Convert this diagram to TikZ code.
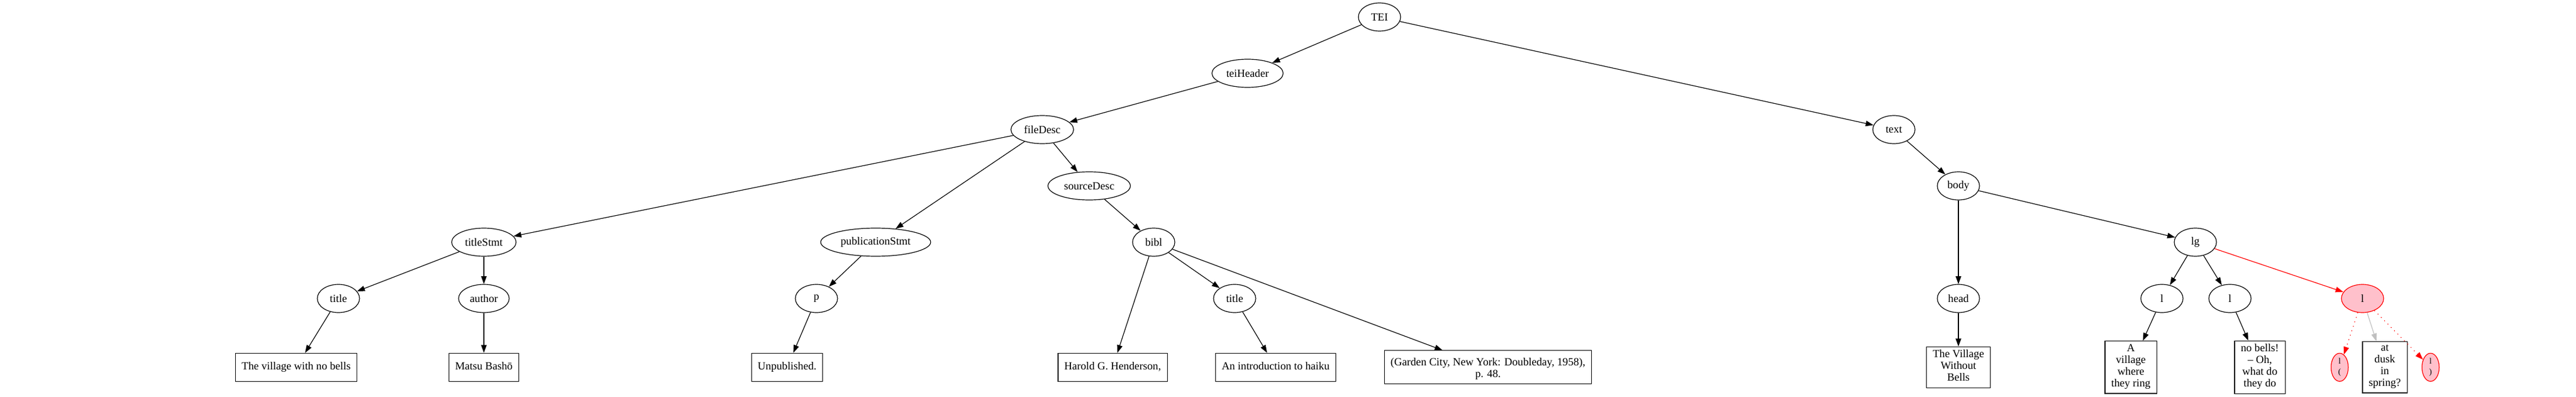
\documentclass[tikz,border=0pt]{standalone}
\usepackage{fontspec}
\setmainfont{Liberation Serif}
\usepackage{tikz}
\usepackage{xcolor}
\usetikzlibrary{shapes.geometric, arrows.meta, positioning}
\definecolor{markfill}{HTML}{FFC0CB}
\definecolor{edgegray}{HTML}{C0C0C0}
\tikzstyle{element} = [ellipse, minimum width=54pt, minimum height=36pt, inner xsep=5pt, inner ysep=2pt, draw=black, line width=0.9pt]
\tikzstyle{leaf} = [rectangle, minimum height=36pt, inner xsep=8pt, inner ysep=4.1pt, align=center, draw=black, line width=0.9pt, execute at begin node=\strut, execute at end node=\strut]
\tikzstyle{marked} = [element, draw=red, fill=markfill]
\tikzstyle{smallmark} = [marked, minimum width=22pt, inner sep=1pt, align=center, font=\fontsize{10.5}{13.5}\selectfont]
\tikzstyle{arrow} = [line width=0.9pt, -{Triangle[length=10pt, width=7pt]}]
\tikzstyle{redarrow} = [arrow, red]
\tikzstyle{dotarrow} = [redarrow, dash pattern=on 1pt off 5pt]
\tikzstyle{grayarrow} = [arrow, edgegray]

\begin{document}
\begin{tikzpicture}[node distance=72pt, font=\fontsize{14}{15}\selectfont]
\useasboundingbox (0pt,0pt) rectangle (3294pt,-507.75pt);
% header side
\node (tei) [element] at (1764pt,-21.75pt) {TEI};
\node (teiheader) [element, below of=tei, xshift=-168.75pt] {teiHeader};
\node (filedesc) [element, below of=teiheader, xshift=-262.5pt] {fileDesc};
\node (sourcedesc) [element, below of=filedesc, xshift=60pt] {sourceDesc};
\node (titlestmt) [element, below of=filedesc, yshift=-72pt, xshift=-714pt] {titleStmt};
\node (pubstmt) [element, below of=filedesc, yshift=-72pt, xshift=-213pt] {publicationStmt};
\node (bibl) [element, below of=sourcedesc, xshift=82.5pt] {bibl};
\node (title) [element, below of=titlestmt, xshift=-186pt] {title};
\node (author) [element, below of=titlestmt] {author};
\node (p) [element, below of=pubstmt, xshift=-75.75pt] {p};
\node (bibltitle) [element, below of=bibl, xshift=103.5pt] {title};
\node (titletext) [leaf, below of=title, yshift=-16pt, xshift=-54pt] {The village with no bells};
\node (authortext) [leaf, below of=author, yshift=-16pt] {Matsu Bashō};
\node (ptext) [leaf, below of=p, yshift=-16pt, xshift=-37.5pt] {Unpublished.};
\node (editor) [leaf, below of=bibl, yshift=-88pt, xshift=-52.5pt] {Harold G. Henderson,};
\node (bibltitletext) [leaf, below of=bibltitle, yshift=-16pt, xshift=52.5pt] {An introduction to haiku};
\node (imprint) [leaf, below of=bibl, yshift=-88pt, xshift=427.5pt] {\\(Garden City, New York: Doubleday, 1958),\\p. 48.};
% text side
\node (text) [element, below of=teiheader, xshift=826.5pt] {text};
\node (body) [element, below of=text, xshift=82.5pt] {body};
\node (head) [element, below of=body, yshift=-72pt] {head};
\node (lg) [element, below of=body, xshift=303pt] {lg};
\node (lone) [element, below of=lg, xshift=-42.75pt] {l};
\node (ltwo) [element, below of=lg, xshift=44.25pt] {l};
\node (lthree) [marked, below of=lg, xshift=213.75pt] {l};
\node (headtext) [leaf, below of=head, yshift=-16pt] {The Village\\Without\\Bells};
\node (lonetext) [leaf, below of=lone, yshift=-16pt, xshift=-39.75pt] {A\\village\\where\\they ring};
\node (ltwotext) [leaf, below of=ltwo, yshift=-16pt, xshift=38.25pt] {no bells!\\– Oh,\\what do\\they do};
\node (lopen) [smallmark, below of=lthree, yshift=-16pt, xshift=-29.25pt] {l\\(};
\node (lthreetext) [leaf, below of=lthree, yshift=-16pt, xshift=28.5pt] {at\\dusk\\in\\spring?};
\node (lclose) [smallmark, below of=lthree, yshift=-16pt, xshift=87pt] {l\\)};

\draw [arrow] (tei) -- (teiheader);
\draw [arrow] (tei) -- (text);
\draw [arrow] (teiheader) -- (filedesc);
\draw [arrow] (filedesc) -- (titlestmt);
\draw [arrow] (filedesc) -- (pubstmt);
\draw [arrow] (filedesc) -- (sourcedesc);
\draw [arrow] (titlestmt) -- (title);
\draw [arrow] (titlestmt) -- (author);
\draw [arrow] (title) -- (titletext);
\draw [arrow] (author) -- (authortext);
\draw [arrow] (pubstmt) -- (p);
\draw [arrow] (p) -- (ptext);
\draw [arrow] (sourcedesc) -- (bibl);
\draw [arrow] (bibl) -- (editor);
\draw [arrow] (bibl) -- (bibltitle);
\draw [arrow] (bibl) -- (imprint);
\draw [arrow] (bibltitle) -- (bibltitletext);
\draw [arrow] (text) -- (body);
\draw [arrow] (body) -- (head);
\draw [arrow] (body) -- (lg);
\draw [arrow] (head) -- (headtext);
\draw [arrow] (lg) -- (lone);
\draw [arrow] (lg) -- (ltwo);
\draw [redarrow] (lg) -- (lthree);
\draw [arrow] (lone) -- (lonetext);
\draw [arrow] (ltwo) -- (ltwotext);
\draw [dotarrow] (lthree) -- (lopen);
\draw [grayarrow] (lthree) -- (lthreetext);
\draw [dotarrow] (lthree) -- (lclose);
\end{tikzpicture}
\end{document}
